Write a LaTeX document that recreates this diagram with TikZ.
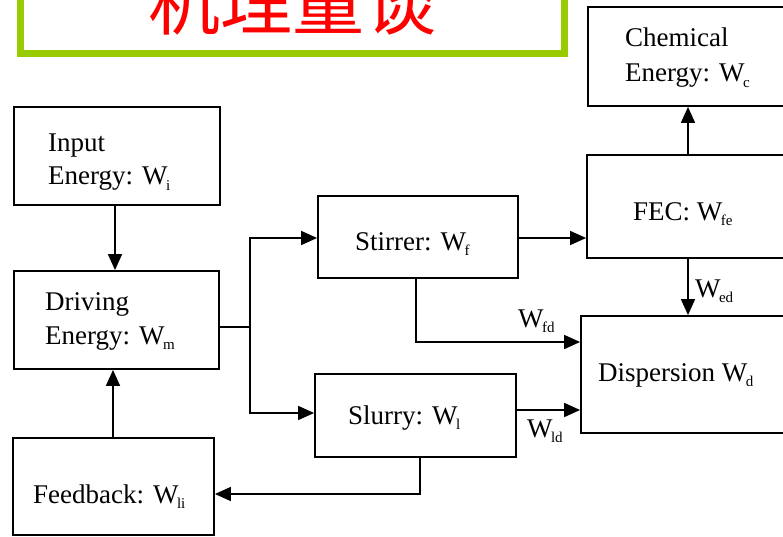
\documentclass[tikz,border=0pt]{standalone}
\usepackage{fontspec}
\setmainfont{Liberation Serif}
\newfontfamily\cjk{Noto Sans CJK SC}
\usetikzlibrary{arrows.meta}
\definecolor{grn}{HTML}{99CC00}
\definecolor{rd}{HTML}{FF0000}
\newcommand\sbs[1]{\kern-0.06em\raisebox{-0.2em}{\fontsize{15}{15}\selectfont #1}}
\begin{document}
\begin{tikzpicture}[x=1pt,y=-1pt,
  box/.style={draw=black, line width=1.8pt, rectangle, inner sep=0pt},
  lbl/.style={font=\fontsize{27}{33}\selectfont, inner sep=0pt, anchor=base west},
  arr/.style={line width=1.6pt, -{Triangle[length=16pt,width=14pt]}},
  ln/.style={line width=1.6pt}]
\useasboundingbox (0,0) rectangle (783,537);
\clip (0,0) rectangle (783,537);
% title frame
\draw[grn, line width=7pt] (20.5,-20) rectangle (564.5,53.5);
\node[text=rd, font=\cjk\fontsize{72}{72}\selectfont, anchor=base, inner sep=0pt] (title) at (292,30) {机理量谈};
% boxes
\node[box, minimum width=206pt, minimum height=98pt] (input) at (117,156) {};
\node[box, minimum width=205pt, minimum height=98pt] (driving) at (116.5,320) {};
\node[box, minimum width=201pt, minimum height=97pt] (feedback) at (113.5,486.5) {};
\node[box, minimum width=200pt, minimum height=82pt] (stirrer) at (418,237) {};
\node[box, minimum width=201pt, minimum height=83pt] (slurry) at (415.5,415.5) {};
\node[box, minimum width=212pt, minimum height=99pt] (chem) at (694,56.5) {};
\node[box, minimum width=213pt, minimum height=103pt] (fec) at (693.5,206.5) {};
\node[box, minimum width=219pt, minimum height=117pt] (disp) at (690.5,374.5) {};
% texts
\node[lbl] (t1) at (48,152) {Input};
\node[lbl] (t2) at (48,185) {Energy: W\sbs{i}};
\node[lbl] (t3) at (45,310) {Driving};
\node[lbl] (t4) at (45,344) {Energy: W\sbs{m}};
\node[lbl] (t5) at (625,47) {Chemical};
\node[lbl] (t6) at (625,82) {Energy: W\sbs{c}};
\node[lbl] (t7) at (355,250) {Stirrer: W\sbs{f}};
\node[lbl] (t8) at (633,220) {FEC: W\sbs{fe}};
\node[lbl] (t9) at (598,381) {Dispersion W\sbs{d}};
\node[lbl] (t10) at (348,424) {Slurry: W\sbs{l}};
\node[lbl] (t11) at (33,503) {Feedback: W\sbs{li}};
% connectors
\draw[arr] (input.south -| 115,0) -- (driving.north -| 115,0);
\coordinate (split) at (250,327);
\draw[ln] (driving.east |- split) -- (split);
\draw[arr] (split) |- (stirrer.west |- 0,238);
\draw[arr] (split) |- (slurry.west |- 0,413);
\draw[arr] (stirrer.east |- 0,238) -- (fec.west |- 0,238);
\draw[arr] (fec.north -| 688,0) -- (chem.south -| 688,0);
\draw[arr] (fec.south -| 688,0) -- (disp.north -| 688,0);
\node[lbl] (led) at (695,297) {W\sbs{ed}};
\draw[arr] (stirrer.south -| 416,0) |- (disp.west |- 0,342);
\node[lbl] (lfd) at (518,327) {W\sbs{fd}};
\draw[arr] (slurry.east |- 0,410) -- (disp.west |- 0,410);
\node[lbl] (lld) at (527,437) {W\sbs{ld}};
\draw[arr] (slurry.south -| 420,0) |- (feedback.east |- 0,494);
\draw[arr] (feedback.north -| 113,0) -- (driving.south -| 113,0);
\end{tikzpicture}
\end{document}
